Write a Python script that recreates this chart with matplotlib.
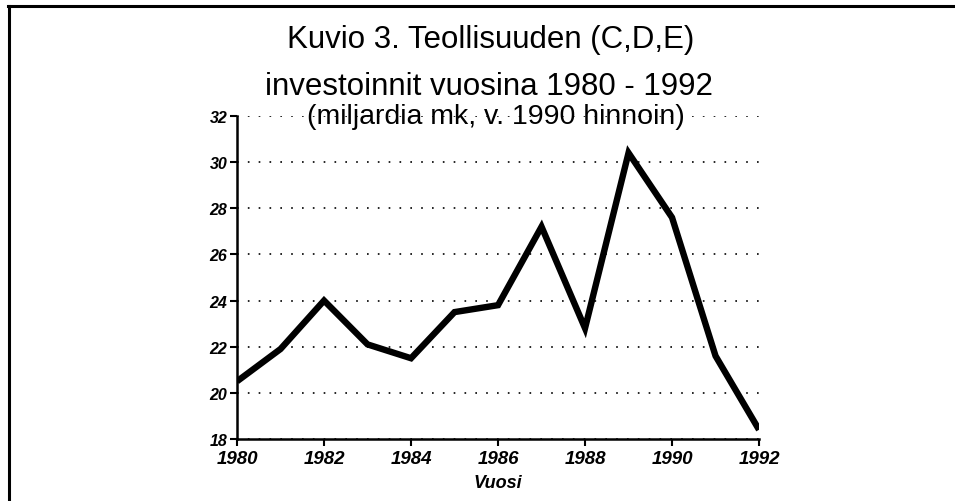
import matplotlib
matplotlib.use('Agg')
import matplotlib.pyplot as plt
from matplotlib.lines import Line2D

plt.rcParams['font.family'] = ['Liberation Sans', 'DejaVu Sans']

# Data (mrd mk, 1990 prices)
years = [1980, 1981, 1982, 1983, 1984, 1985, 1986, 1987, 1988, 1989, 1990, 1991, 1992]
investments = [20.5, 21.9, 24.0, 22.1, 21.5, 23.5, 23.8, 27.2, 22.8, 30.4, 27.6, 21.6, 18.4]
x_ticks = [1980, 1982, 1984, 1986, 1988, 1990, 1992]
y_ticks = [18, 20, 22, 24, 26, 28, 30, 32]

title_lines = ['Kuvio 3. Teollisuuden (C,D,E)',
               'investoinnit vuosina 1980 - 1992',
               '(miljardia mk, v. 1990 hinnoin)']

fig = plt.figure(figsize=(9.55, 5.02), dpi=100)
ax = fig.add_axes([0.2482, 0.1235, 0.5466, 0.6435])

ax.plot(years, investments, color='black', linewidth=4.6,
        solid_joinstyle='miter', solid_capstyle='butt', zorder=3)

ax.set_xlim(1980, 1992)
ax.set_ylim(18, 32)
ax.set_xticks(x_ticks)
ax.set_yticks(y_ticks)

ax.yaxis.grid(True, color='black', linestyle=(0, (1.0, 5.5)), linewidth=1.2)
ax.xaxis.grid(False)

for side in ['top', 'right']:
    ax.spines[side].set_visible(False)
for side in ['left', 'bottom']:
    ax.spines[side].set_linewidth(1.8)

ax.tick_params(axis='both', direction='out', length=5, width=1.5, color='black')
ax.tick_params(axis='x', pad=3)
ax.tick_params(axis='y', pad=2)
for lbl in ax.get_xticklabels():
    lbl.set_fontsize(13.5)
    lbl.set_fontweight('bold')
    lbl.set_fontstyle('italic')
for lbl in ax.get_yticklabels():
    lbl.set_fontsize(11.5)
    lbl.set_fontweight('bold')
    lbl.set_fontstyle('italic')

ax.set_xlabel('Vuosi', fontsize=13, fontweight='bold', fontstyle='italic', labelpad=5)

# title, three lines
fig.text(0.514, 0.904, title_lines[0], ha='center', va='baseline', fontsize=22.5)
fig.text(0.512, 0.811, title_lines[1], ha='center', va='baseline', fontsize=22.5)
fig.text(0.519, 0.752, title_lines[2], ha='center', va='baseline', fontsize=20.5, zorder=1)

# scanned frame: only top and left edges visible
fig.add_artist(Line2D([8 / 955, 1.0], [1 - 7 / 502, 1 - 7 / 502], color='black', linewidth=2.2))
fig.add_artist(Line2D([9 / 955, 9 / 955], [0.0, 1 - 7 / 502], color='black', linewidth=2.2))

fig.savefig('out.png', dpi=100)
plt.close(fig)
